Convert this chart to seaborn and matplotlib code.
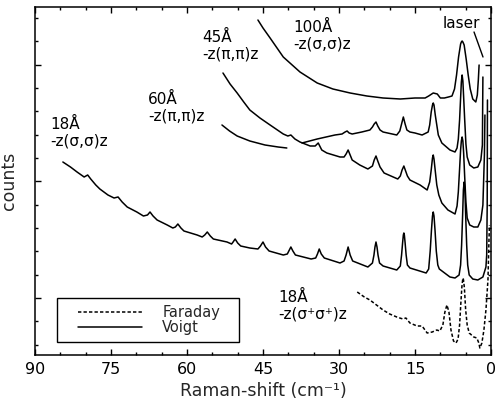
import numpy as np
import matplotlib
matplotlib.use("Agg")
import matplotlib.pyplot as plt
from matplotlib.patches import Rectangle
import seaborn as sns

# ---------------- data ----------------
# Raman shift (cm^-1) and counts (arbitrary units)
x_100 = [46.0, 45.0, 43.6, 41.0, 37.7, 34.3, 31.2, 27.8, 24.5, 21.3, 17.9, 15.0, 13.0, 12.3, 11.4, 10.6,
         10.0, 9.2, 8.4, 7.7, 7.2, 6.8, 6.4, 6.0, 5.85, 5.7, 5.55, 5.3, 4.9, 4.5, 4.1, 3.6, 3.0, 2.7,
         2.5, 2.35]
y_100 = [335, 327, 317, 298, 283, 272, 266, 262, 259, 257, 256, 257, 257, 259, 262, 261,
         257, 257, 258, 259, 266, 280, 298, 311, 313, 314, 313, 310, 296, 280, 266, 256, 253, 260,
         275, 290]

x_45 = [52.9, 51.5, 50.1, 48.8, 47.6, 45.6, 43.6, 41.0, 40.1, 39.5, 38.7, 37.7, 35.7, 34.7, 34.1, 33.4,
        32.4, 29.8, 29.0, 28.6, 28.2, 27.8, 27.4, 25.9, 24.3, 23.4, 23.05, 22.7, 22.35, 21.9, 21.1, 18.4,
        17.9, 17.55, 17.2, 16.85, 16.5, 16.0,
        14.0, 12.6, 12.1, 11.8, 11.55, 11.4, 11.25, 11.0, 10.7, 10.3, 9.7, 8.5, 7.1, 6.7, 6.45, 6.2,
        6.0, 5.85, 5.7, 5.55, 5.4, 5.2, 4.95, 4.7, 4.2, 3.4, 2.6, 2.0, 1.6, 1.3, 1.2]
y_45 = [282, 271, 262, 253, 245, 237, 230, 221, 219, 220, 216, 213, 209, 209, 212, 205,
        202, 198, 198, 201, 205, 200, 195, 190, 186, 189, 195, 199, 194, 188, 182, 176,
        179, 185, 189, 184, 179, 175,
        170, 165, 173, 185, 197, 200, 196, 184, 170, 160, 152, 145, 141, 149, 163, 186,
        205, 214, 218, 214, 202, 179, 153, 137, 130, 128, 128, 135, 150, 200, 240]

x_60a = [53.1, 51.6, 50.1, 47.6, 44.6, 42.0, 40.3]
y_60a = [230, 224, 219, 214, 210, 208, 207]
x_60b = [37.3, 34.3, 30.8, 29.4, 28.8, 28.4, 28.0, 27.4, 25.5, 23.9, 23.4, 23.05, 22.7, 22.35, 21.9,
         21.3, 18.6, 18.0, 17.65, 17.3, 16.95, 16.6, 16.0, 15.0,
         13.6, 12.4, 12.1, 11.8, 11.55, 11.4, 11.25, 11.0, 10.7, 10.4, 9.7, 8.1, 7.1, 6.7, 6.45, 6.2,
         6.0, 5.85, 5.7, 5.55, 5.4, 5.2, 4.95, 4.7, 4.2, 3.4, 2.6, 2.0, 1.7, 1.6]
y_60b = [212, 216, 220, 221, 223, 224, 222, 221, 223, 225, 228, 231, 233, 229, 225,
         223, 220, 224, 231, 238, 231, 225, 223, 222,
         220, 223, 230, 243, 250, 252, 250, 240, 230, 220, 212, 205, 203, 207, 216, 235,
         257, 273, 280, 274, 258, 236, 211, 198, 190, 187, 188, 195, 210, 278]

x_18v = [84.5, 83.0, 81.7, 80.3, 79.6, 79.0, 78.0, 77.2, 75.6, 74.4, 73.6, 72.8, 71.8, 69.9, 68.6, 67.8,
         67.3, 66.7, 65.9, 63.9, 62.8, 62.3, 61.8, 61.2, 60.6, 58.0, 57.0, 56.5, 56.0, 55.4, 54.8, 52.1,
         51.2, 50.9, 50.5, 50.0, 49.4, 47.6, 46.0, 45.5, 45.0, 44.5, 43.8, 41.0, 40.2, 39.9, 39.5, 39.1,
         38.6, 35.5, 34.6, 34.25, 33.9, 33.5, 32.9, 29.8, 29.0, 28.6, 28.2, 27.8, 27.3,
         24.3, 23.4, 23.1, 22.9, 22.7, 22.5, 22.3, 22.0, 21.3, 18.6, 17.9, 17.65, 17.45, 17.3, 17.2,
         17.1, 16.95, 16.75, 16.5, 16.0, 12.8, 12.3, 12.0, 11.75, 11.55, 11.4, 11.25, 11.05, 10.8, 10.5,
         10.2, 8.1, 7.1, 6.3, 6.0, 5.8, 5.6, 5.45, 5.3, 5.15, 5.0, 4.8, 4.6, 4.3, 3.6, 2.6, 1.6, 1.0,
         0.85, 0.75, 0.7]
y_18v = [193, 188, 183, 178, 180, 176, 170, 166, 160, 157, 158, 153, 148, 143, 139, 140,
         143, 139, 135, 130, 127, 128, 131, 127, 124, 120, 118, 120, 123, 119, 116, 113,
         111, 113, 116, 112, 109, 107, 106, 109, 113, 108, 104, 100, 101, 104, 108, 104,
         100, 96, 97, 101, 106, 101, 97, 92, 94, 100, 108, 100, 94,
         88, 92, 100, 108, 113, 108, 100, 92, 89, 85, 89, 100, 112, 120, 122,
         120, 112, 100, 90, 87, 82, 86, 104, 125, 139, 143, 139, 125, 104, 90,
         86, 78, 77, 80, 90, 110, 140, 165, 173, 165, 140, 110, 90, 80, 76, 75, 78, 88,
         100, 150, 255]

x_18f = [26.4, 25.0, 23.9, 22.6, 21.3, 20.0, 18.6, 17.4, 16.8, 16.0, 14.6, 13.6, 12.6, 11.6, 10.7, 10.1,
         9.5, 9.1, 8.7, 8.3, 7.9, 7.4, 6.9, 6.5, 6.2, 5.95, 5.75, 5.6, 5.5, 5.4, 5.25, 5.0, 4.7, 4.3,
         3.4, 2.8, 2.4, 2.2, 1.8, 1.4, 1.0, 0.6, 0.4, 0.3]
y_18f = [63, 58, 55, 50, 45, 41, 38, 36, 37, 32, 29, 29, 22, 23, 25, 24,
         30, 43, 50, 43, 25, 14, 12, 16, 30, 52, 68, 75, 77, 74, 67, 45, 30, 22,
         18, 17, 12, 7, 12, 25, 45, 75, 115, 130]

x_ticks = [90, 75, 60, 45, 30, 15, 0]
legend_labels = ["Faraday", "Voigt"]

# ---------------- styling ----------------
sns.set_style("ticks")
plt.rcParams['font.family'] = ['DejaVu Sans']

W, H = 495, 411
fig = plt.figure(figsize=(W / 100, H / 100), dpi=100)
ax = fig.add_axes([35 / W, 56 / H, 456 / W, 347.5 / H])

lw = 1.1
common = dict(ax=ax, sort=False, estimator=None, color="black", linewidth=lw)
sns.lineplot(x=x_18v, y=y_18v, **common)
h_voigt = ax.lines[-1]
sns.lineplot(x=x_18f, y=y_18f, linestyle=(0, (2.2, 1.4)), **common)
h_far = ax.lines[-1]
sns.lineplot(x=x_60a, y=y_60a, **common)
sns.lineplot(x=x_60b, y=y_60b, **common)
sns.lineplot(x=x_45, y=y_45, **common)
sns.lineplot(x=x_100, y=y_100, **common)

ax.set_xlim(90, 0)
ax.set_ylim(0, 347.5)

ax.set_xticks(x_ticks)
ax.set_xticklabels([str(t) for t in x_ticks])
ax.set_xticks(np.arange(0, 91, 5), minor=True)
ax.set_yticks([57, 57 + 5 * 23.33, 57 + 10 * 23.33])
ax.set_yticks(np.arange(57 - 2 * 23.33, 347, 23.33), minor=True)
ax.set_yticklabels([])

for s in ax.spines.values():
    s.set_linewidth(1.1)
    s.set_color("black")
ax.tick_params(which="both", direction="in", top=True, right=True, width=1.0,
               color="black", labelsize=11.5, pad=4.9, labelcolor="black")
ax.tick_params(which="major", length=4.5)
ax.tick_params(which="minor", length=2.3)

ax.set_xlabel("Raman-shift (cm\u207b\u00b9)", fontsize=12.5, labelpad=3.5)
ax.set_ylabel("counts", fontsize=12.5, labelpad=7)

# ---------------- annotations ----------------
tk = dict(fontsize=11, ha="left", va="top", color="black", linespacing=1.15)
ax.text(39.1, 335, "100Å\n-z(σ,σ)z", **tk)
ax.text(57.0, 325, "45Å\n-z(π,π)z", **tk)
ax.text(67.7, 263, "60Å\n-z(π,π)z", **tk)
ax.text(87.0, 238, "18Å\n-z(σ,σ)z", **tk)
ax.text(42.0, 65, "18Å\n-z(σ\u207aσ\u207a)z", **tk)
ax.text(9.5, 327, "laser", fontsize=11, ha="left", va="baseline", color="black")
ax.annotate("", xy=(1.58, 298), xytext=(3.35, 323),
            arrowprops=dict(arrowstyle="-", lw=1.0, color="black", shrinkA=0, shrinkB=0))

# legend box and entries
ax.add_patch(Rectangle((22 / 456, 13 / 347.5), 182 / 456, 44 / 347.5, transform=ax.transAxes,
                       facecolor="white", edgecolor="black", lw=1.0, zorder=4))
leg = ax.legend(handles=[h_far, h_voigt], labels=legend_labels, loc="upper left",
                bbox_to_anchor=(43 / 456, (355 - 305.5) / 347.5), bbox_transform=ax.transAxes,
                frameon=False, fontsize=10.5, handlelength=4.4, handletextpad=1.37,
                borderpad=0, borderaxespad=0, labelspacing=-0.05)
leg.set_zorder(5)

fig.savefig("out.png", dpi=100)
